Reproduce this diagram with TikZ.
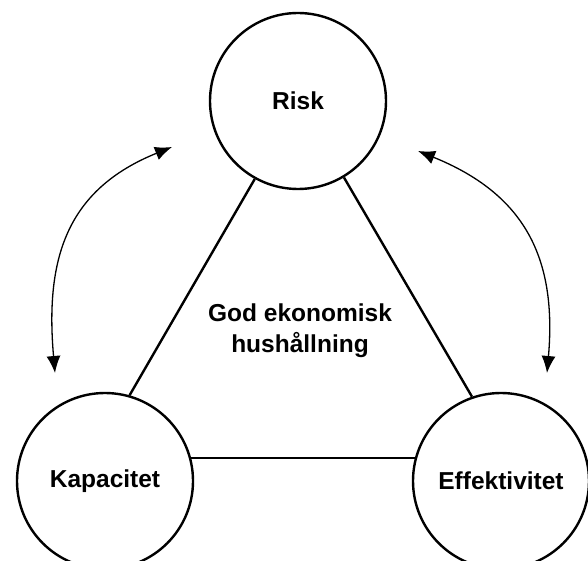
\documentclass[tikz,border=0pt]{standalone}
\usepackage{fontspec}
\setmainfont{Liberation Sans}
\usetikzlibrary{arrows.meta}

\tikzset{
  factor/.style={draw, circle, line width=2.4pt, minimum size=176pt, inner sep=0pt,
    font=\fontsize{24.5}{28}\selectfont\bfseries},
  edge line/.style={line width=2.4pt},
  swap arrow/.style={line width=1.3pt, {Latex[length=17pt,width=14pt]}-{Latex[length=17pt,width=14pt]}}
}

\begin{document}
\begin{tikzpicture}[x=1pt, y=-1pt]
          \useasboundingbox (0,0) rectangle (588,561);
          \node[factor] (risk) at (298,101) {Risk};
          \node[factor] (kap) at (105,481) {Kapacitet};
          \node[factor] (eff) at (501,481) {Effektivitet};
          \node[font=\fontsize{24.5}{31}\selectfont\bfseries, align=center] (mid) at (300,331) {God ekonomisk\\hushållning};

          \draw [edge line] (risk.241) -- (kap.74);
          \draw [edge line] (risk.301) -- (eff.109);
          \draw [edge line] (kap.15) -- (eff.165);

          \coordinate (l1) at (172,147);
          \coordinate (l2) at (55,373);
          \coordinate (r1) at (418,151);
          \coordinate (r2) at (547,373);
          \draw [swap arrow] (l1) to [out=202, in=95, looseness=1.15] (l2);
          \draw [swap arrow] (r1) to [out=-22, in=85, looseness=1.15] (r2);
          \end{tikzpicture}
\end{document}
